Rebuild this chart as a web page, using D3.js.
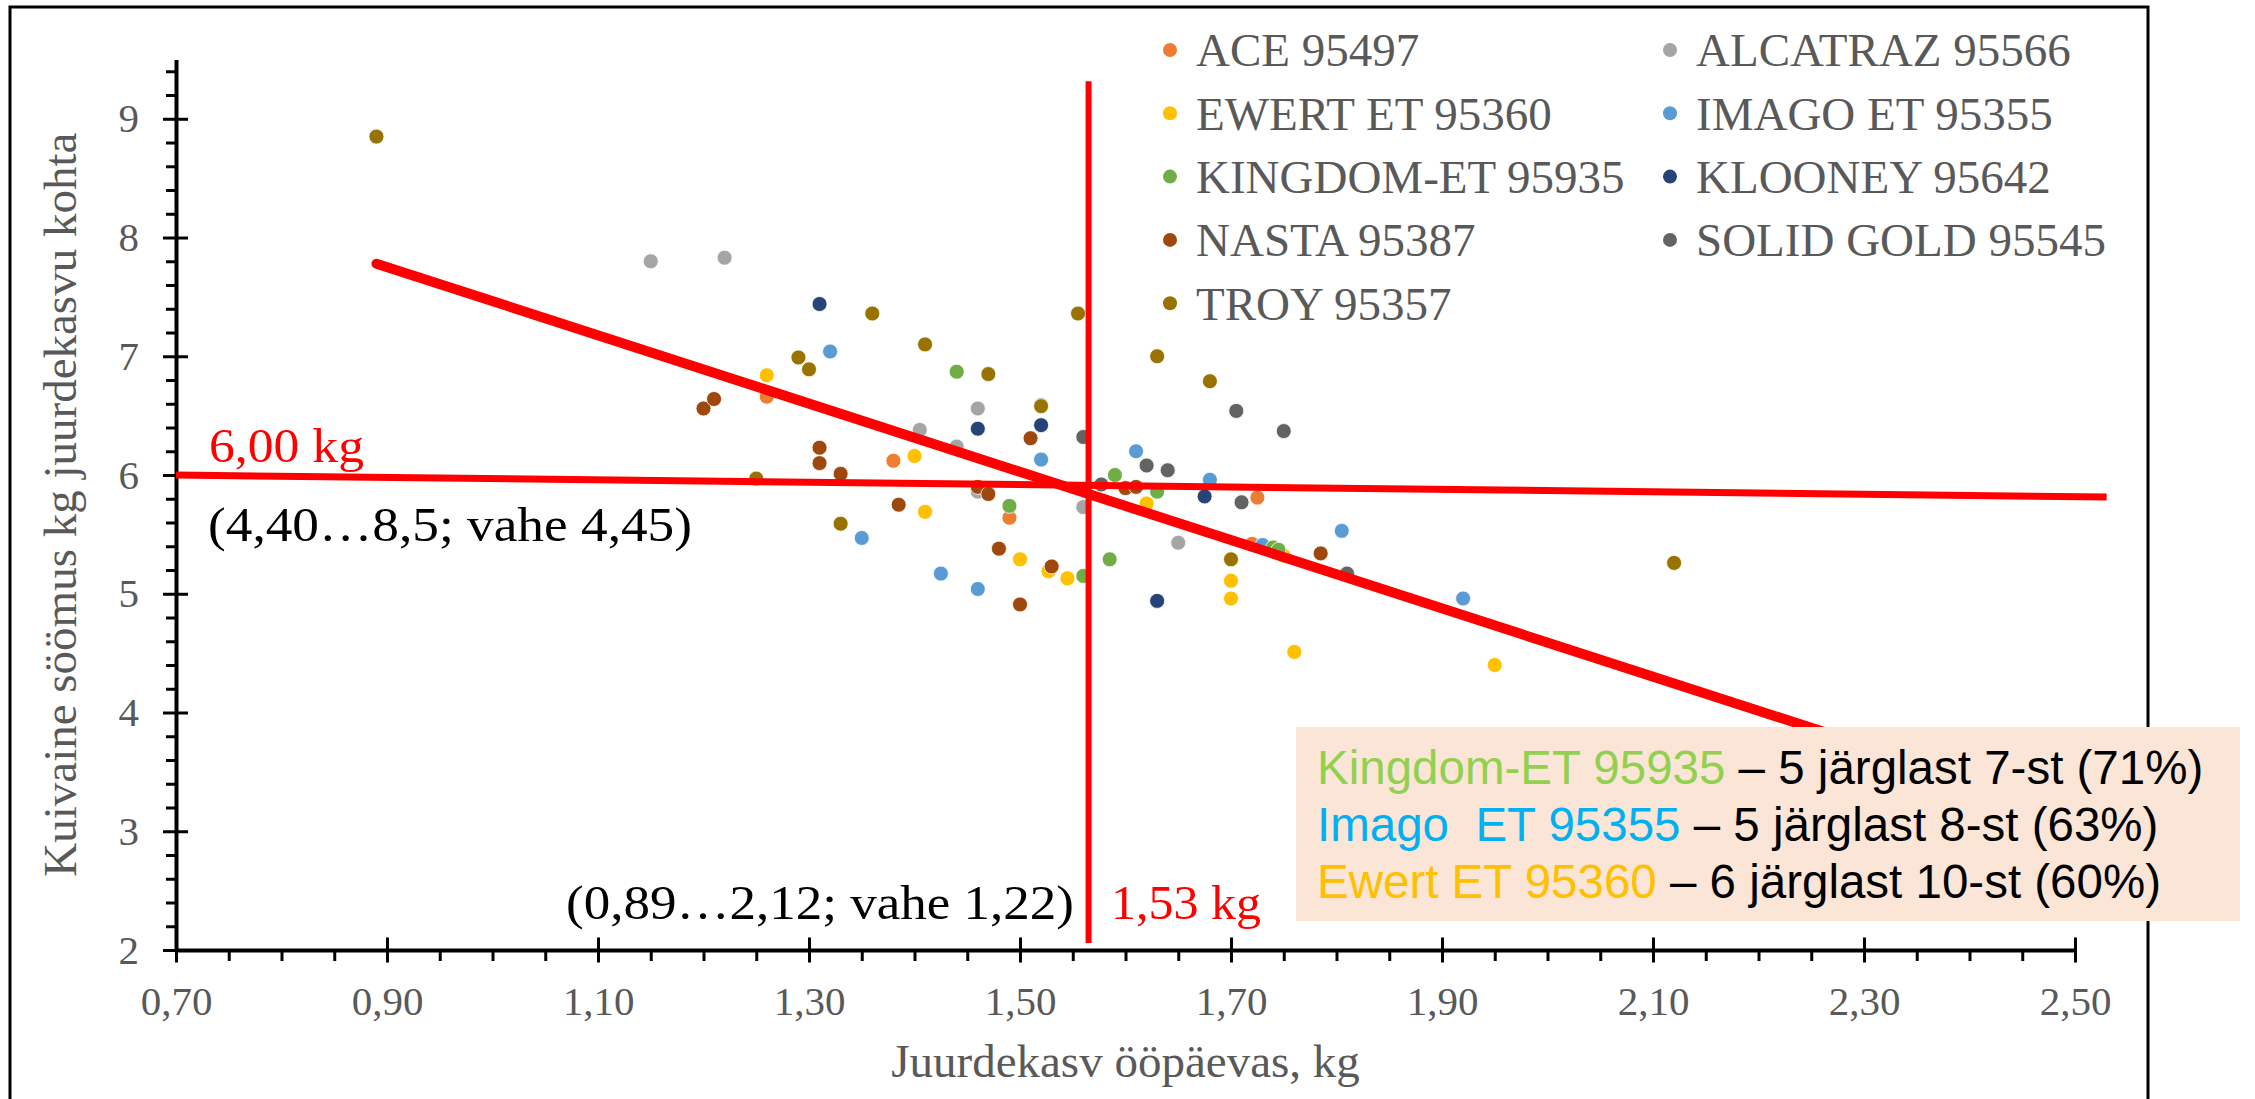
<!DOCTYPE html>
<html>
<head>
<meta charset="utf-8">
<script src="https://cdn.jsdelivr.net/npm/d3@7"></script>
<style>
  body { margin: 0; background: #fff; }
  text { font-family: "Liberation Serif", "Times New Roman", serif; }
  .box text { font-family: "Liberation Sans", Arial, sans-serif; white-space: pre; }
</style>
</head>
<body>
<script>
const width = 2255;
const height = 1099;

// series names and colours (Excel palette)
const seriesNames = ["ACE 95497", "ALCATRAZ 95566", "EWERT ET 95360", "IMAGO ET 95355",
  "KINGDOM-ET 95935", "KLOONEY 95642", "NASTA 95387", "SOLID GOLD 95545", "TROY 95357"];
const seriesColors = ["#ED7D31", "#A5A5A5", "#FFC000", "#5B9BD5", "#70AD47",
  "#264478", "#9E480E", "#636363", "#997300"];

// [juurdekasv kg/päev, kuivaine kg / kg juurdekasvu]
const ace = [[1.26, 6.66], [1.38, 6.12], [1.49, 5.64], [1.725, 5.81], [1.72, 5.42]];
const alcatraz = [[1.15, 7.80], [1.22, 7.83], [1.405, 6.38], [1.44, 6.24], [1.46, 6.56],
  [1.46, 5.86], [1.56, 5.73], [1.65, 5.43]];
const ewert = [[1.26, 6.84], [1.40, 6.16], [1.41, 5.69], [1.50, 5.29], [1.527, 5.19],
  [1.545, 5.13], [1.62, 5.76], [1.70, 5.11], [1.70, 4.96], [1.75, 5.32], [1.76, 4.51], [1.95, 4.40]];
const imago = [[1.32, 7.04], [1.35, 5.47], [1.425, 5.17], [1.46, 5.04], [1.52, 6.59],
  [1.52, 6.13], [1.61, 6.20], [1.68, 5.96], [1.73, 5.41], [1.805, 5.53], [1.92, 4.96]];
const kingdom = [[1.44, 6.87], [1.49, 5.74], [1.59, 6.00], [1.63, 5.86], [1.585, 5.29],
  [1.56, 5.15], [1.74, 5.39], [1.745, 5.37]];
const klooney = [[1.31, 7.44], [1.46, 6.39], [1.52, 6.42], [1.675, 5.82], [1.63, 4.94]];
const nasta = [[1.20, 6.56], [1.21, 6.64], [1.31, 6.23], [1.31, 6.10], [1.33, 6.01],
  [1.385, 5.75], [1.46, 5.90], [1.47, 5.84], [1.48, 5.38], [1.51, 6.31], [1.53, 5.23],
  [1.50, 4.91], [1.60, 5.89], [1.61, 5.90], [1.785, 5.34]];
const solidGold = [[1.56, 6.32], [1.577, 5.92], [1.62, 6.08], [1.64, 6.04], [1.705, 6.54],
  [1.75, 6.37], [1.71, 5.77], [1.81, 5.17]];
const troy = [[0.89, 8.85], [1.25, 5.97], [1.29, 6.99], [1.30, 6.89], [1.33, 5.59],
  [1.36, 7.36], [1.41, 7.10], [1.47, 6.85], [1.52, 6.58], [1.555, 7.36], [1.63, 7.00],
  [1.68, 6.79], [1.70, 5.29], [2.12, 5.26]];
const seriesData = [ace, alcatraz, ewert, imago, kingdom, klooney, nasta, solidGold, troy];

// axis ticks
const xMajor = [0.70, 0.90, 1.10, 1.30, 1.50, 1.70, 1.90, 2.10, 2.30, 2.50];
const yMajor = [2, 3, 4, 5, 6, 7, 8, 9];

// red helper lines
const trendLine = [[0.89, 7.78], [2.40, 3.44]];
const meanYLine = [[0.70, 6.00], [2.53, 5.815]];
const meanXLine = [[1.565, 2.06], [1.565, 9.315]];

// annotation box lines: [coloured part, colour, black part]
const boxLines = [
  ["Kingdom-ET 95935", "#92D050", " – 5 järglast 7-st (71%)"],
  ["Imago  ET 95355", "#00B0F0", " – 5 järglast 8-st (63%)"],
  ["Ewert ET 95360", "#FFC000", " – 6 järglast 10-st (60%)"]
];

const gray = "#595959";

const x = d3.scaleLinear().domain([0.7, 2.5]).range([176, 2075]);
const y = d3.scaleLinear().domain([2, 9.5]).range([950, 59.4]);

const svg = d3.select("body").append("svg")
    .attr("width", width)
    .attr("height", height);

// outer frame
svg.append("rect")
    .attr("x", 10).attr("y", 7)
    .attr("width", 2138).attr("height", 1110)
    .attr("fill", "none")
    .attr("stroke", "#000")
    .attr("stroke-width", 3);

const comma = d => d.toFixed(2).replace(".", ",");

// x axis
const xMinor = d3.range(0, 37).filter(i => i % 4 !== 0).map(i => +(0.7 + i * 0.05).toFixed(2));
const gxMinor = svg.append("g")
    .attr("transform", `translate(0,${y(2)})`)
    .call(d3.axisBottom(x).tickValues(xMinor).tickFormat("").tickSize(11).tickSizeOuter(0));
gxMinor.select(".domain").remove();

const gx = svg.append("g")
    .attr("transform", `translate(0,${y(2)})`)
    .call(d3.axisBottom(x).tickValues(xMajor).tickFormat(comma).tickSizeOuter(0));
gx.selectAll(".tick line").attr("y1", -12.5).attr("y2", 12.5);
gx.selectAll(".tick text").attr("y", 65).attr("dy", 0)
    .attr("fill", gray).style("font-size", "41px");

// y axis
const yMinorV = d3.range(0, 38).filter(i => i % 5 !== 0).map(i => +(2 + i * 0.2).toFixed(1));
const gyMinor = svg.append("g")
    .attr("transform", `translate(${x(0.7)},0)`)
    .call(d3.axisLeft(y).tickValues(yMinorV).tickFormat("").tickSize(10).tickSizeOuter(0));
gyMinor.select(".domain").remove();

const gy = svg.append("g")
    .attr("transform", `translate(${x(0.7)},0)`)
    .call(d3.axisLeft(y).tickValues(yMajor).tickFormat(d3.format("d")).tickSizeOuter(0));
gy.selectAll(".tick line").attr("x1", -13).attr("x2", 12);
gy.selectAll(".tick text").attr("x", -37)
    .attr("fill", gray).style("font-size", "41px");

svg.selectAll(".domain").attr("stroke", "#000").attr("stroke-width", 4);
svg.selectAll(".tick line").attr("stroke", "#000").attr("stroke-width", 3);

// axis titles
svg.append("text")
    .attr("x", (x(0.7) + x(2.5)) / 2)
    .attr("y", 1077)
    .attr("text-anchor", "middle")
    .attr("fill", gray)
    .style("font-size", "47px")
    .text("Juurdekasv ööpäevas, kg");

svg.append("text")
    .attr("transform", `translate(76,${(y(2) + y(9.5)) / 2}) rotate(-90)`)
    .attr("text-anchor", "middle")
    .attr("fill", gray)
    .style("font-size", "47px")
    .text("Kuivaine söömus kg juurdekasvu kohta");

// points
const series = svg.append("g").selectAll("g")
    .data(seriesData)
  .enter().append("g")
    .attr("fill", (d, i) => seriesColors[i]);

series.selectAll("circle")
    .data(d => d)
  .enter().append("circle")
    .attr("cx", d => x(d[0]))
    .attr("cy", d => y(d[1]))
    .attr("r", 7.5)
    .attr("stroke", "#fff")
    .attr("stroke-width", 0.8);

// legend
const legend = svg.append("g").selectAll("g")
    .data(seriesNames)
  .enter().append("g")
    .attr("transform", (d, i) => `translate(${1170 + (i % 2) * 500},${50 + Math.floor(i / 2) * 63.3})`);
legend.append("circle")
    .attr("r", 7)
    .attr("fill", (d, i) => seriesColors[i]);
legend.append("text")
    .attr("x", 26)
    .attr("dy", "0.35em")
    .attr("fill", gray)
    .style("font-size", "47px")
    .text(d => d);

// red lines
const line = d3.line().x(d => x(d[0])).y(d => y(d[1]));
svg.append("path").datum(meanYLine)
    .attr("d", line).attr("fill", "none")
    .attr("stroke", "#FF0000").attr("stroke-width", 7);
svg.append("path").datum(meanXLine)
    .attr("d", line).attr("fill", "none")
    .attr("stroke", "#FF0000").attr("stroke-width", 6);
svg.append("path").datum(trendLine)
    .attr("d", line).attr("fill", "none")
    .attr("stroke", "#FF0000").attr("stroke-width", 10)
    .attr("stroke-linecap", "round");

// annotations
svg.append("text")
    .attr("x", 209).attr("y", 462)
    .attr("fill", "#FF0000")
    .attr("textLength", 155).attr("lengthAdjust", "spacingAndGlyphs")
    .style("font-size", "48px")
    .text("6,00 kg");
svg.append("text")
    .attr("x", 208).attr("y", 541)
    .attr("fill", "#000")
    .attr("textLength", 484).attr("lengthAdjust", "spacingAndGlyphs")
    .style("font-size", "48px")
    .text("(4,40…8,5; vahe 4,45)");
svg.append("text")
    .attr("x", 566).attr("y", 919)
    .attr("fill", "#000")
    .attr("textLength", 508).attr("lengthAdjust", "spacingAndGlyphs")
    .style("font-size", "48px")
    .text("(0,89…2,12; vahe 1,22)");
svg.append("text")
    .attr("x", 1111).attr("y", 919)
    .attr("fill", "#FF0000")
    .attr("textLength", 150).attr("lengthAdjust", "spacingAndGlyphs")
    .style("font-size", "48px")
    .text("1,53 kg");

// highlighted box
const box = svg.append("g").attr("class", "box");
box.append("rect")
    .attr("x", 1296).attr("y", 727)
    .attr("width", 944).attr("height", 194)
    .attr("fill", "#FBE5D6");
const boxText = box.selectAll("text")
    .data(boxLines)
  .enter().append("text")
    .attr("x", 1317)
    .attr("y", (d, i) => 784 + i * 57)
    .style("font-size", "47.5px");
boxText.append("tspan").attr("fill", d => d[1]).text(d => d[0]);
boxText.append("tspan").attr("fill", "#000").text(d => d[2]);
</script>
</body>
</html>
